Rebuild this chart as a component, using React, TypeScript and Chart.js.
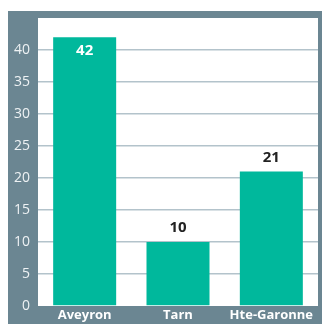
import { useEffect, useRef } from "react";
import { Chart, registerables } from "chart.js";

Chart.register(...registerables);

const categories = ["Aveyron", "Tarn", "Hte-Garonne"];
const values = [42, 10, 21];
const yMax = 45;
const yStep = 5;
const yLastLabel = 40;

const FRAME = "#6b8692";
const TEAL = "#00b89c";
const GRID = "#b3c3cb";
const TICK = "#eef2f4";

const framePlugin = {
  id: "frame",
  beforeDraw(chart: any) {
    const { ctx, chartArea } = chart;
    ctx.save();
    ctx.fillStyle = FRAME;
    ctx.fillRect(8, 11, chart.width - 8, chart.height - 11);
    ctx.fillStyle = "#ffffff";
    ctx.fillRect(chartArea.left, chartArea.top, chartArea.right - chartArea.left, chartArea.bottom - chartArea.top);
    ctx.restore();
  },
};

const labelPlugin = {
  id: "valueLabels",
  afterDatasetsDraw(chart: any) {
    const { ctx } = chart;
    const meta = chart.getDatasetMeta(0);
    ctx.save();
    ctx.font = "bold 15px 'Open Sans'";
    ctx.textAlign = "center";
    ctx.textBaseline = "middle";
    meta.data.forEach((bar: any, i: number) => {
      const v = values[i];
      if (v >= 30) {
        ctx.fillStyle = "#ffffff";
        ctx.fillText(String(v), bar.x, bar.y + 14);
      } else {
        ctx.fillStyle = "#222222";
        ctx.fillText(String(v), bar.x, bar.y - 14);
      }
    });
    ctx.restore();
  },
};

export default function App() {
  const ref = useRef<HTMLCanvasElement | null>(null);
  useEffect(() => {
    if (!ref.current) return;
    const chart = new Chart(ref.current, {
      type: "bar",
      data: {
        labels: categories,
        datasets: [
          {
            data: values,
            backgroundColor: TEAL,
            borderWidth: 0,
            barPercentage: 0.675,
            categoryPercentage: 1,
          },
        ],
      },
      options: {
        animation: false,
        responsive: false,
        layout: { padding: { left: 8, top: 18, right: 4, bottom: 0 } },
        plugins: { legend: { display: false }, tooltip: { enabled: false } },
        scales: {
          x: {
            grid: { display: false },
            border: { display: false },
            ticks: {
              color: "#ffffff",
              font: { family: "Open Sans", size: 13, weight: "bold" },
              padding: -7,
              maxRotation: 0,
            },
            afterFit(scale: any) {
              scale.height = 18;
            },
          },
          y: {
            min: 0,
            max: yMax,
            border: { display: false },
            grid: {
              color: (c: any) => (c.tick && c.tick.value === 0 ? "rgba(0,0,0,0)" : GRID),
              lineWidth: 1.5,
              drawTicks: false,
            },
            ticks: {
              stepSize: yStep,
              color: TICK,
              font: { family: "Open Sans", size: 14, weight: "normal" },
              padding: 8,
            },
            afterBuildTicks(scale: any) {
              scale.ticks = scale.ticks.filter((t: any) => t.value <= yLastLabel);
            },
            afterFit(scale: any) {
              scale.width = 30;
            },
          },
        },
      },
      plugins: [framePlugin, labelPlugin],
    });
    return () => chart.destroy();
  }, []);
  return (
    <div style={{ position: "absolute", left: 0, top: 0, width: 322, height: 324 }}>
      <canvas ref={ref} width={322} height={324} style={{ display: "block" }} />
    </div>
  );
}
